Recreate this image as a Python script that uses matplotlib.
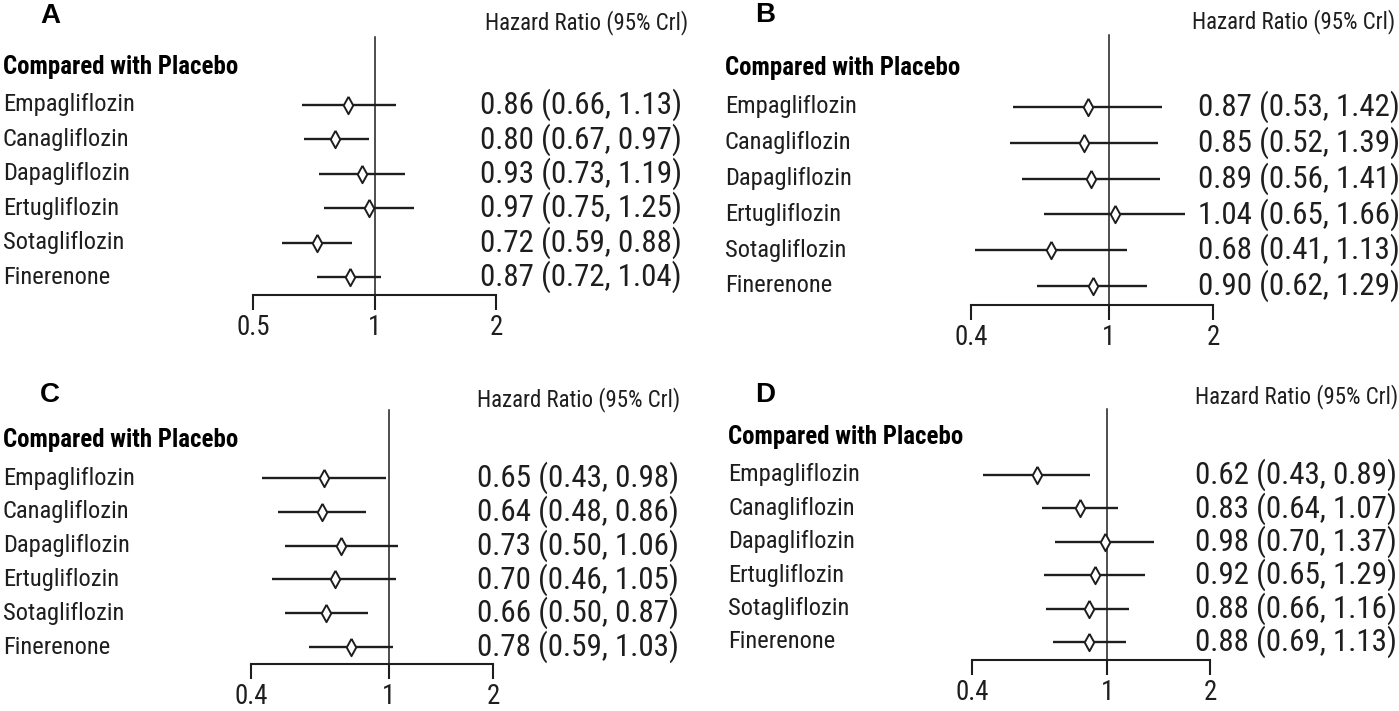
import matplotlib
matplotlib.use('Agg')
import matplotlib.pyplot as plt
import matplotlib.transforms as mtrans
from matplotlib import font_manager as fm
from matplotlib.textpath import TextPath

W, H = 1399, 711

drugs = ['Empagliflozin', 'Canagliflozin', 'Dapagliflozin',
         'Ertugliflozin', 'Sotagliflozin', 'Finerenone']

# hazard ratios and 95% CrI per panel
hr_a = [0.86, 0.80, 0.93, 0.97, 0.72, 0.87]
lo_a = [0.66, 0.67, 0.73, 0.75, 0.59, 0.72]
hi_a = [1.13, 0.97, 1.19, 1.25, 0.88, 1.04]

hr_b = [0.87, 0.85, 0.89, 1.04, 0.68, 0.90]
lo_b = [0.53, 0.52, 0.56, 0.65, 0.41, 0.62]
hi_b = [1.42, 1.39, 1.41, 1.66, 1.13, 1.29]

hr_c = [0.65, 0.64, 0.73, 0.70, 0.66, 0.78]
lo_c = [0.43, 0.48, 0.50, 0.46, 0.50, 0.59]
hi_c = [0.98, 0.86, 1.06, 1.05, 0.87, 1.03]

hr_d = [0.62, 0.83, 0.98, 0.92, 0.88, 0.88]
lo_d = [0.43, 0.64, 0.70, 0.65, 0.66, 0.69]
hi_d = [0.89, 1.07, 1.37, 1.29, 1.16, 1.13]

ticks_a = [0.5, 1, 2]
ticks_bcd = [0.4, 1, 2]
tick_labels_a = ['0.5', '1', '2']
tick_labels_bcd = ['0.4', '1', '2']

header = 'Hazard Ratio (95% Crl)'
group = 'Compared with Placebo'

# pick a narrow sans face, like the squeezed R output
names = set(f.name for f in fm.fontManager.ttflist)
cands = ['Liberation Sans Narrow', 'Arial Narrow', 'Roboto Condensed',
         'Archivo Narrow', 'PT Sans Narrow', 'IBM Plex Sans Condensed',
         'Liberation Sans']
NARROW = [c for c in cands if c in names][:1] + ['DejaVu Sans']


def has_bold(name):
  for f in fm.fontManager.ttflist:
    if f.name == name and f.style == 'normal':
      wt = f.weight if isinstance(f.weight, int) else (700 if f.weight == 'bold' else 400)
      if wt >= 600:
        return True
  return False


NARROW_B = [c for c in cands if c in names and has_bold(c)][:1] + ['DejaVu Sans']


def fit(sample, px, family, weight='normal'):
  # font size (pt) that makes the ink of sample px pixels wide at 100 dpi
  tp = TextPath((0, 0), sample, size=100,
                prop=fm.FontProperties(family=family, weight=weight))
  return 72.0 * px / tp.get_extents().width


fs_hr = fit('0.86 (0.66, 1.13)', 198, NARROW)
fs_lab = fit('Empagliflozin', 128, NARROW)
fs_comp = fit(group, 233, NARROW_B, 'bold')
fs_head = fit(header, 200, NARROW)
fs_tick = fit('0.5', 31, NARROW)

# layout of each panel in pixels
panels = [
  dict(letter='A', hr=hr_a, lo=lo_a, hi=hi_a, ticks=ticks_a, tl=tick_labels_a,
       x0=253, x1=496, ytop=37, ybot=295, r0=105, s=34.4, lab_x=3, hr_x=480,
       head_x=485, head_y=23, comp_y=67, let_x=40, let_y=16),
  dict(letter='B', hr=hr_b, lo=lo_b, hi=hi_b, ticks=ticks_bcd, tl=tick_labels_bcd,
       x0=971, x1=1213, ytop=35, ybot=305, r0=107, s=35.8, lab_x=725, hr_x=1198,
       head_x=1192, head_y=22, comp_y=68, let_x=755, let_y=15),
  dict(letter='C', hr=hr_c, lo=lo_c, hi=hi_c, ticks=ticks_bcd, tl=tick_labels_bcd,
       x0=251, x1=493, ytop=410, ybot=664, r0=478, s=33.8, lab_x=3, hr_x=477,
       head_x=477, head_y=400, comp_y=440, let_x=40, let_y=395),
  dict(letter='D', hr=hr_d, lo=lo_d, hi=hi_d, ticks=ticks_bcd, tl=tick_labels_bcd,
       x0=972, x1=1210, ytop=409, ybot=660, r0=475, s=33.4, lab_x=728, hr_x=1195,
       head_x=1195, head_y=397, comp_y=437, let_x=755, let_y=395),
]

fig = plt.figure(figsize=(W / 100, H / 100), dpi=100)
fig.patch.set_facecolor('white')


def fx(px):
  return px / W


def fy(py):
  return 1 - py / H


ink = '#1e1e1e'
# tall narrow open diamond, as in the R forest plot
diamond = [(0, 1), (0.55, 0), (0, -1), (-0.55, 0), (0, 1)]

for p in panels:
  ax = fig.add_axes([fx(p['x0']), fy(p['ybot']), fx(p['x1'] - p['x0']),
                     (p['ybot'] - p['ytop']) / H])
  ax.set_xscale('log')
  ax.set_xlim(p['ticks'][0], p['ticks'][-1])
  ax.set_ylim((p['ybot'] - p['r0']) / p['s'], (p['ytop'] - p['r0']) / p['s'])
  ax.patch.set_alpha(0)
  for side in ['top', 'right', 'left']:
    ax.spines[side].set_visible(False)
  ax.spines['bottom'].set_linewidth(1.5)
  ax.spines['bottom'].set_color(ink)
  ax.set_yticks([])
  ax.set_xticks(p['ticks'])
  ax.set_xticklabels(p['tl'], family=NARROW, fontsize=fs_tick)
  ax.xaxis.set_minor_locator(matplotlib.ticker.NullLocator())
  ax.tick_params(axis='x', direction='out', length=11, width=1.5, pad=3,
                 colors=ink)
  ax.axvline(1, color=ink, lw=1.1, clip_on=False)
  rows = list(range(len(drugs)))
  ax.hlines(rows, p['lo'], p['hi'], color=ink, lw=1.7, clip_on=False)
  ax.plot(p['hr'], rows, linestyle='none', marker=diamond, ms=12.5,
          mfc='white', mec=ink, mew=1.4, clip_on=False, zorder=3)

  tr = mtrans.blended_transform_factory(fig.transFigure, ax.transData)
  for i, name in enumerate(drugs):
    ax.text(fx(p['lab_x']), i, name, transform=tr, family=NARROW,
            fontsize=fs_lab, va='center', ha='left', color=ink)
    s = '%.2f (%.2f, %.2f)' % (p['hr'][i], p['lo'][i], p['hi'][i])
    ax.text(fx(p['hr_x']), i, s, transform=tr, family=NARROW,
            fontsize=fs_hr, va='center', ha='left', color=ink)

  fig.text(fx(p['let_x']), fy(p['let_y']), p['letter'],
           family=['Liberation Sans', 'DejaVu Sans'], fontweight='bold',
           fontsize=20, va='center', ha='left')
  fig.text(fx(p['lab_x']), fy(p['comp_y']), group, family=NARROW_B,
           fontweight='bold', fontsize=fs_comp, va='center', ha='left')
  fig.text(fx(p['head_x']), fy(p['head_y']), header, family=NARROW,
           fontsize=fs_head, va='center', ha='left', color=ink)

plt.savefig('out.png', dpi=100)
